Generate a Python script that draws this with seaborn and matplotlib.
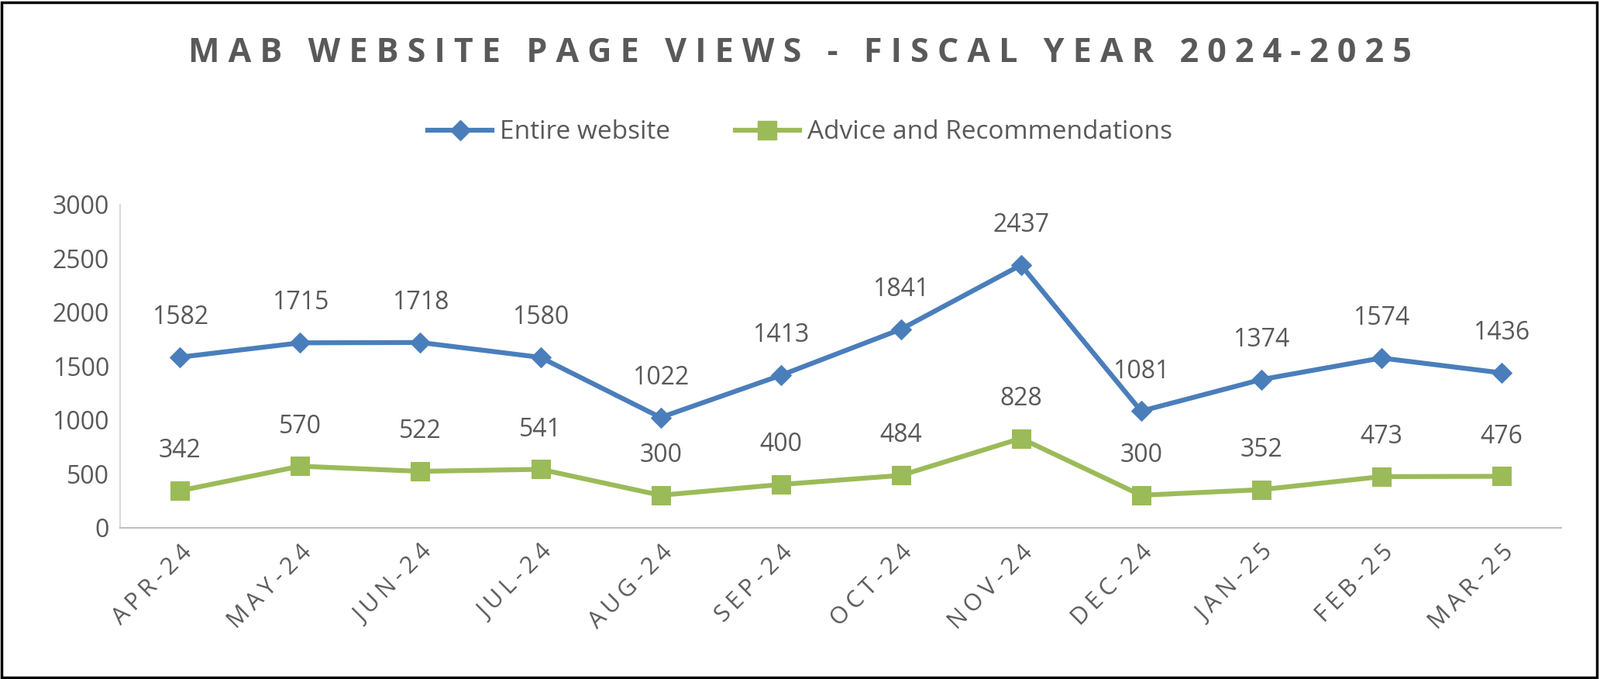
import matplotlib.pyplot as plt
import seaborn as sns
from matplotlib.patches import Rectangle
from matplotlib.lines import Line2D

months = ['APR-24', 'MAY-24', 'JUN-24', 'JUL-24', 'AUG-24', 'SEP-24',
          'OCT-24', 'NOV-24', 'DEC-24', 'JAN-25', 'FEB-25', 'MAR-25']
entire = [1582, 1715, 1718, 1580, 1022, 1413, 1841, 2437, 1081, 1374, 1574, 1436]
advice = [342, 570, 522, 541, 300, 400, 484, 828, 300, 352, 473, 476]

blue = '#4A7EBB'
green = '#9BBB59'
grey = '#595959'
plt.rcParams['font.family'] = 'Open Sans'


def spaced(s, sep='\u2009'):
    # letter spacing, Excel-style
    return sep.join(s)


fig = plt.figure(figsize=(20.65, 8.76), dpi=100)
ax = fig.add_axes([0.075, 0.223, 0.901, 0.476])
x = list(range(len(months)))
sns.lineplot(x=x, y=entire, ax=ax, color=blue, lw=4.5, marker='D', markersize=13,
             markeredgecolor=blue)
sns.lineplot(x=x, y=advice, ax=ax, color=green, lw=4.5, marker='s', markersize=17,
             markeredgecolor=green)
for series in (entire, advice):
    for xi, v in zip(x, series):
        ax.annotate(str(v), (xi, v), xytext=(0, 37), textcoords='offset points',
                    ha='center', va='center', fontsize=23, color=grey)

ax.set_xlim(-0.5, 11.5)
ax.set_ylim(0, 3000)
ax.set_yticks(range(0, 3001, 500))
ax.set_xticks(x)
ax.set_xticklabels([spaced(m) for m in months], rotation=45, ha='right',
                   rotation_mode='anchor')
ax.tick_params(axis='x', labelsize=22, labelcolor=grey, length=0, pad=12)
ax.tick_params(axis='y', labelsize=23, labelcolor=grey, length=0, pad=10)
for s in ['top', 'right']:
    ax.spines[s].set_visible(False)
ax.spines['left'].set_color('#D9D9D9')
ax.spines['bottom'].set_color('#BFBFBF')
ax.spines['left'].set_linewidth(1.5)
ax.spines['bottom'].set_linewidth(1.5)

fig.text(0.5, 0.922, spaced('MAB WEBSITE PAGE VIEWS - FISCAL YEAR 2024-2025', ' '),
         ha='center', va='center', fontsize=31, fontweight='bold', color=grey)
handles = [Line2D([], [], color=blue, lw=4.5, marker='D', markersize=13),
           Line2D([], [], color=green, lw=4.5, marker='s', markersize=17)]
fig.legend(handles, ['Entire website', 'Advice and Recommendations'],
           loc='center', bbox_to_anchor=(0.5, 0.805), ncol=2, frameon=False,
           fontsize=24, labelcolor=grey, handlelength=2.5, handletextpad=0.3,
           columnspacing=2.5)
fig.patches.append(Rectangle((0.001, 0.002), 0.997, 0.995, transform=fig.transFigure,
                             fill=False, edgecolor='black', lw=2.5))
fig.savefig('out.png', dpi=100)
